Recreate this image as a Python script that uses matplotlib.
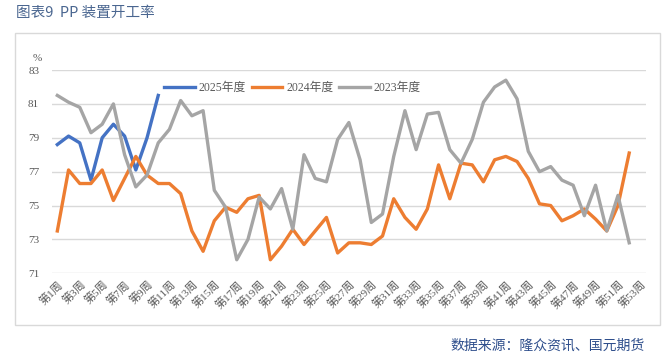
import matplotlib.pyplot as plt
from matplotlib.patches import Rectangle

plt.rcParams['font.family'] = ['Liberation Serif', 'Noto Sans CJK SC']

# weeks 1..53 (label every other week)
weeks = ["第%d周" % i for i in range(1, 54)]

# PP plant operating rate, %
y2025 = [78.6, 79.1, 78.7, 76.5, 79.0, 79.8, 79.1, 77.1, 79.0, 81.5]
y2024 = [73.5, 77.1, 76.3, 76.3, 77.1, 75.3, 76.6, 77.9, 76.8, 76.3,
         76.3, 75.7, 73.5, 72.3, 74.1, 74.9, 74.6, 75.4, 75.6, 71.8,
         72.6, 73.6, 72.7, 73.5, 74.3, 72.2, 72.8, 72.8, 72.7, 73.2,
         75.4, 74.3, 73.6, 74.8, 77.4, 75.4, 77.5, 77.4, 76.4, 77.7,
         77.9, 77.6, 76.6, 75.1, 75.0, 74.1, 74.4, 74.8, 74.2, 73.5,
         75.0, 78.1]
y2023 = [81.5, 81.1, 80.8, 79.3, 79.8, 81.0, 78.0, 76.1, 76.8, 78.7,
         79.5, 81.2, 80.3, 80.6, 75.9, 74.9, 71.8, 73.0, 75.5, 74.8,
         76.0, 73.6, 78.0, 76.6, 76.4, 78.9, 79.9, 77.7, 74.0, 74.5,
         77.9, 80.6, 78.3, 80.4, 80.5, 78.3, 77.5, 78.9, 81.1, 82.0,
         82.4, 81.3, 78.2, 77.0, 77.3, 76.5, 76.2, 74.4, 76.2, 73.5,
         75.6, 72.8]

fig = plt.figure(figsize=(6.7, 3.56), dpi=100)
ax = fig.add_axes([0.0772, 0.2323, 0.887, 0.571])

fig.patches.append(Rectangle((0.0224, 0.0871), 0.9627, 0.82, transform=fig.transFigure,
                             fill=False, edgecolor='#D9D9D9', linewidth=1))

ax.plot(range(len(y2025)), y2025, color='#4472C4', lw=2.4, label='2025年度')
ax.plot(range(len(y2024)), y2024, color='#ED7D31', lw=2.4, label='2024年度')
ax.plot(range(len(y2023)), y2023, color='#A5A5A5', lw=2.4, label='2023年度')

ax.set_xlim(-0.5, len(weeks) - 0.5)
ax.set_ylim(71, 83)
ax.set_yticks(range(71, 84, 2))
ax.set_xticks(range(0, len(weeks), 2))
ax.set_xticklabels(weeks[::2], rotation=45, ha='right', va='top', rotation_mode='anchor')
ax.tick_params(axis='both', length=0, labelsize=8, labelcolor='#595959')
ax.tick_params(axis='y', pad=9)
ax.tick_params(axis='x', pad=4)
ax.grid(axis='y', color='#D9D9D9', lw=1)
ax.set_axisbelow(True)
for s in ax.spines.values():
    s.set_visible(False)

ax.text(-0.024, 1.035, '%', transform=ax.transAxes, fontsize=8, color='#595959', ha='center', va='bottom')

ax.legend(loc='center', bbox_to_anchor=(0.405, 0.911), ncol=3, frameon=False, fontsize=8.5,
          handlelength=2.6, columnspacing=0.5, handletextpad=0.3, labelcolor='#595959')

fig.text(0.024, 0.963, '图表9  PP 装置开工率', fontsize=10.5, color='#4A6690', va='center',
         family=['Noto Sans CJK SC', 'DejaVu Sans'])
fig.text(0.962, 0.028, '数据来源：隆众资讯、国元期货', fontsize=10, color='#2E4E8C', ha='right',
         va='center', family=['Noto Sans CJK SC', 'DejaVu Sans'])

fig.savefig('out.png', dpi=100)
